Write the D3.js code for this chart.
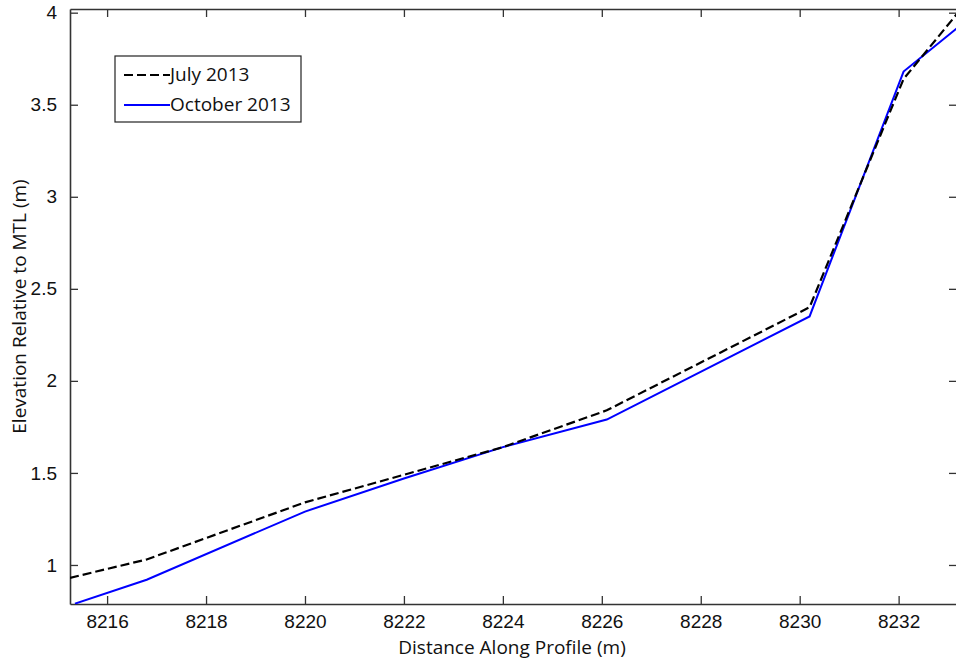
<!DOCTYPE html>
<html>
<head>
<meta charset="utf-8">
<script src="https://cdn.jsdelivr.net/npm/d3@7"></script>
<style>
    body { margin: 0; background: #fff; }
    svg { display: block; font-family: "Open Sans", sans-serif; }
</style>
</head>
<body>
<svg id="chart" width="956" height="663"></svg>
<script>

// profile data
var julyX = [8215.25, 8216.8, 8220.0, 8222.0, 8224.0, 8226.1, 8230.2, 8232.1, 8233.2];
var julyY = [0.93, 1.03, 1.34, 1.49, 1.64, 1.84, 2.40, 3.64, 4.00];
var octX = [8215.35, 8216.8, 8220.0, 8222.0, 8224.0, 8226.1, 8230.2, 8232.1, 8233.2];
var octY = [0.79, 0.92, 1.29, 1.47, 1.64, 1.79, 2.35, 3.68, 3.92];

var seriesNames = ['July 2013', 'October 2013'];
var xTicks = [8216, 8218, 8220, 8222, 8224, 8226, 8228, 8230, 8232];
var yTicks = [1, 1.5, 2, 2.5, 3, 3.5, 4];

var margin = {left: 70, top: 9, right: -1, bottom: 59};
var width = 956 - margin.left - margin.right;
var height = 663 - margin.top - margin.bottom;
var tickLen = 8;
var axisColor = '#333';
var dashes = '9,4';

var svg = d3.select('#chart');
var g = svg.append('g')
    .attr('transform', 'translate(' + margin.left + ',' + margin.top + ')');

var x = d3.scaleLinear().domain([8215.25, 8233.18]).range([0, width]);
var y = d3.scaleLinear().domain([0.788, 4.02]).range([height, 0]);

function styleAxis (sel) {
    sel.selectAll('path').attr('stroke', axisColor).attr('stroke-width', 1.3);
    sel.selectAll('line').attr('stroke', axisColor).attr('stroke-width', 1.3);
    sel.selectAll('text').attr('fill', '#111').style('font-size', '19px');
}

// box: ticks point inward like matlab
g.append('g')
    .attr('transform', 'translate(0,' + height + ')')
    .call(d3.axisBottom(x).tickValues(xTicks).tickFormat(d3.format('d'))
        .tickSizeInner(-tickLen).tickSizeOuter(0).tickPadding(tickLen + 3))
    .call(styleAxis);

g.append('g')
    .call(d3.axisTop(x).tickValues(xTicks).tickFormat('')
        .tickSizeInner(-tickLen).tickSizeOuter(0))
    .call(styleAxis);

g.append('g')
    .call(d3.axisLeft(y).tickValues(yTicks).tickFormat(d3.format('~g'))
        .tickSizeInner(-tickLen).tickSizeOuter(0).tickPadding(tickLen + 5))
    .call(styleAxis);

g.append('g')
    .attr('transform', 'translate(' + width + ',0)')
    .call(d3.axisRight(y).tickValues(yTicks).tickFormat('')
        .tickSizeInner(-tickLen).tickSizeOuter(0))
    .call(styleAxis);

g.selectAll('.domain').attr('stroke-width', 1.6);

// lines
g.append('clipPath').attr('id', 'plotClip')
    .append('rect').attr('width', width).attr('height', height);

var line = d3.line()
    .x(function (d) { return x(d[0]); })
    .y(function (d) { return y(d[1]); });

var julyPts = d3.zip(julyX, julyY);
var octPts = d3.zip(octX, octY);

g.append('path')
    .datum(octPts)
    .attr('clip-path', 'url(#plotClip)')
    .attr('fill', 'none')
    .attr('stroke', '#0000ff')
    .attr('stroke-width', 2)
    .attr('d', line);

g.append('path')
    .datum(julyPts)
    .attr('clip-path', 'url(#plotClip)')
    .attr('fill', 'none')
    .attr('stroke', '#000')
    .attr('stroke-width', 2.2)
    .attr('stroke-dasharray', dashes)
    .attr('d', line);

// legend
var legend = svg.append('g').attr('transform', 'translate(115,56)');
legend.append('rect')
    .attr('width', 186).attr('height', 66)
    .attr('fill', '#fff').attr('stroke', '#222').attr('stroke-width', 1.2);

var legendStyles = [
    {color: '#000', dash: dashes},
    {color: '#0000ff', dash: null}
];

for (var i = 0; i < seriesNames.length; i++) {
    var ly = 19 + i * 30;
    legend.append('line')
        .attr('x1', 9).attr('x2', 55)
        .attr('y1', ly).attr('y2', ly)
        .attr('stroke', legendStyles[i].color)
        .attr('stroke-width', 2)
        .attr('stroke-dasharray', legendStyles[i].dash);
    legend.append('text')
        .attr('x', 55).attr('y', ly + 6)
        .style('font-size', '19px')
        .attr('fill', '#111')
        .text(seriesNames[i]);
}

// axis titles
svg.append('text')
    .attr('x', margin.left + (956 - margin.left) / 2 - 1)
    .attr('y', 654)
    .attr('text-anchor', 'middle')
    .style('font-size', '19px')
    .attr('fill', '#111')
    .text('Distance Along Profile (m)');

svg.append('text')
    .attr('transform', 'translate(26,' + (margin.top + height / 2) + ') rotate(-90)')
    .attr('text-anchor', 'middle')
    .style('font-size', '19px')
    .attr('fill', '#111')
    .text('Elevation Relative to MTL (m)');

</script>
</body>
</html>
